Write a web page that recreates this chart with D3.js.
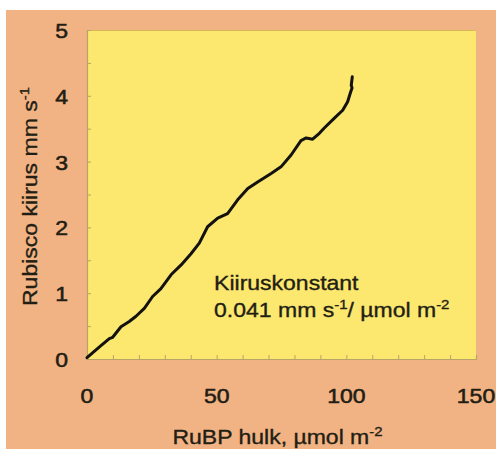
<!DOCTYPE html>
<html>
<head>
<meta charset="utf-8">
<script src="https://cdn.jsdelivr.net/npm/d3@7"></script>
<style>
  html, body { margin: 0; padding: 0; background: #fff; }
  svg { display: block; }
  text { font-family: "Liberation Sans", Arial, Helvetica, sans-serif; fill: #221e14; }
</style>
</head>
<body>
<script>
// RuBP pool size (µmol m-2) against Rubisco rate (mm s-1)
const rubpPool = [0, 4.7, 8.6, 9.9, 13.1, 16.3, 18.9, 22.1, 25.3, 28.5, 32.4, 36.3, 40.1, 43.3,
  46.5, 50.4, 54.2, 58.1, 62, 65.8, 71, 74.8, 78.7, 82.5, 84.5, 87, 89.6, 91.5, 95.4, 98.6,
  100.5, 101.6, 102.2, 101.9, 102.3];
const rubiscoRate = [0.02, 0.18, 0.31, 0.33, 0.49, 0.57, 0.65, 0.77, 0.95, 1.07, 1.28, 1.43, 1.6, 1.76,
  2.01, 2.14, 2.21, 2.42, 2.59, 2.69, 2.82, 2.92, 3.10, 3.32, 3.36, 3.34, 3.43, 3.51, 3.66, 3.78,
  3.91, 4.05, 4.12, 4.16, 4.29];
const xTickLabels = [0, 50, 100, 150];
const yTickLabels = [0, 1, 2, 3, 4, 5];
const xMinorTicks = d3.range(0, 151, 10);
const yMinorTicks = d3.range(0, 5.01, 0.5);

const W = 496, H = 451;
const plot = { left: 87, right: 476, top: 30, bottom: 359 };
const sx = 1.15;          // horizontal widening of the lettering
const fontSize = 20;
const ink = "#221e14";

const x = d3.scaleLinear().domain([0, 150]).range([plot.left, plot.right]);
const y = d3.scaleLinear().domain([0, 5]).range([plot.bottom, plot.top]);

const svg = d3.select("body").append("svg").attr("width", W).attr("height", H);

// page panel and plot area
svg.append("rect").attr("x", 6).attr("y", 10).attr("width", W - 6).attr("height", 439)
  .attr("fill", "#f2b384");
svg.append("rect").attr("x", plot.left).attr("y", plot.top)
  .attr("width", plot.right - plot.left).attr("height", plot.bottom - plot.top)
  .attr("fill", "#fce76f");
// top frame edge
svg.append("line").attr("x1", plot.left).attr("x2", plot.right)
  .attr("y1", plot.top + 0.5).attr("y2", plot.top + 0.5)
  .attr("stroke", "#d8b858").attr("stroke-width", 1.2);

// axes: inward minor ticks, no labels from the generator
const xAxis = d3.axisBottom(x).tickValues(xMinorTicks).tickSize(-4).tickFormat("");
const yAxis = d3.axisLeft(y).tickValues(yMinorTicks).tickSize(-4).tickFormat("");
const gx = svg.append("g").attr("transform", `translate(0,${plot.bottom})`).call(xAxis);
const gy = svg.append("g").attr("transform", `translate(${plot.left},0)`).call(yAxis);
[gx, gy].forEach(g => {
  g.select(".domain").attr("stroke", "#b8a468").attr("stroke-width", 1.2);
  g.selectAll(".tick line").attr("stroke", "#b8a468").attr("stroke-width", 1);
});

// helper: widened text
function label(px, py, anchor, rot, weight) {
  return svg.append("text")
    .attr("transform", `translate(${px},${py})` + (rot ? ` rotate(${rot})` : "") + ` scale(${sx},1)`)
    .attr("text-anchor", anchor)
    .attr("font-size", fontSize)
    .attr("stroke", ink)
    .attr("stroke-width", weight);
}

// tick labels
xTickLabels.forEach(v => { label(x(v), 403, "middle", 0, 0.55).text(v); });
yTickLabels.forEach(v => { label(plot.left - 19, y(v) + 8, "end", 0, 0.55).text(v); });

// axis titles with superscripts
function sup(t, s) {
  t.append("tspan").attr("font-size", 13).attr("dy", -8).text(s);
}
const xt = label((plot.left + plot.right) / 2 - 4, 444, "middle", 0, 0.35);
xt.append("tspan").text("RuBP hulk, µmol m");
sup(xt, "-2");

const yt = label(37, (plot.top + plot.bottom) / 2 + 2, "middle", -90, 0.35);
yt.append("tspan").text("Rubisco kiirus mm s");
sup(yt, "-1");

// the curve
const line = d3.line().x(d => x(d[0])).y(d => y(d[1])).curve(d3.curveLinear);
svg.append("path")
  .datum(d3.zip(rubpPool, rubiscoRate))
  .attr("d", line)
  .attr("fill", "none")
  .attr("stroke", "#141210")
  .attr("stroke-width", 3)
  .attr("stroke-linejoin", "round")
  .attr("stroke-linecap", "round");

// rate constant annotation
label(x(49), y(1.05), "start", 0, 0.35).text("Kiiruskonstant");
const k = label(x(49), y(0.64), "start", 0, 0.35);
k.append("tspan").text("0.041 mm s");
k.append("tspan").attr("font-size", 13).attr("dy", -8).text("-1");
k.append("tspan").attr("dy", 8).text("/ µmol m");
k.append("tspan").attr("font-size", 13).attr("dy", -8).text("-2");
</script>
</body>
</html>
